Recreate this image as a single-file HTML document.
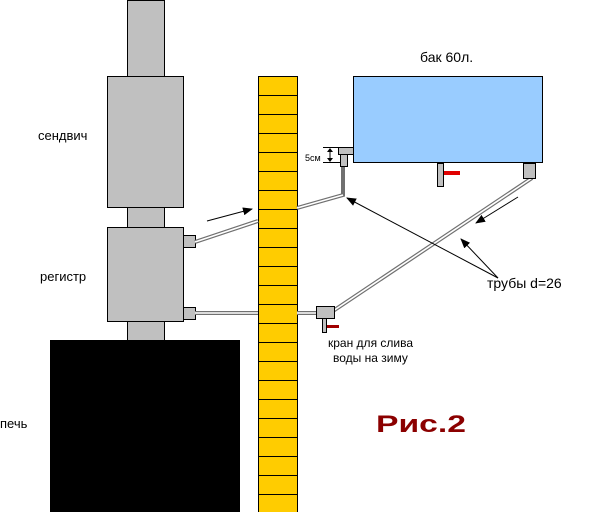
<!DOCTYPE html>
<html><head><meta charset="utf-8"><style>html,body{margin:0;padding:0;background:#fff}svg{display:block}</style></head><body>
<svg width="602" height="512" viewBox="0 0 602 512" xmlns="http://www.w3.org/2000/svg" font-family="Liberation Sans, sans-serif">
<defs><marker id="ah" markerWidth="10" markerHeight="8" refX="9" refY="4" orient="auto" markerUnits="userSpaceOnUse"><path d="M0,0 L10,4 L0,8 z" fill="#000"/></marker></defs>
<g stroke="#000" stroke-width="1" fill="#c0c0c0">
<rect x="127.5" y="0.5" width="37" height="77"/>
<rect x="127.5" y="207.5" width="37" height="21"/>
<rect x="127.5" y="321.5" width="37" height="20"/>
<rect x="107.5" y="76.5" width="76" height="131"/>
<rect x="107.5" y="227.5" width="76" height="94"/>
<rect x="183.5" y="235.5" width="12" height="12"/>
<rect x="183.5" y="307.5" width="12" height="12"/>
</g>
<rect x="50" y="340" width="190" height="172" fill="#000"/>
<rect x="258.5" y="76.5" width="39" height="440" fill="#ffcc00" stroke="#000"/>
<g stroke="#000" stroke-width="1">
<line x1="258" y1="95.5" x2="297" y2="95.5"/><line x1="258" y1="114.5" x2="297" y2="114.5"/><line x1="258" y1="133.5" x2="297" y2="133.5"/><line x1="258" y1="152.5" x2="297" y2="152.5"/><line x1="258" y1="171.5" x2="297" y2="171.5"/><line x1="258" y1="190.5" x2="297" y2="190.5"/><line x1="258" y1="209.5" x2="297" y2="209.5"/><line x1="258" y1="228.5" x2="297" y2="228.5"/><line x1="258" y1="247.5" x2="297" y2="247.5"/><line x1="258" y1="266.5" x2="297" y2="266.5"/><line x1="258" y1="285.5" x2="297" y2="285.5"/><line x1="258" y1="304.5" x2="297" y2="304.5"/><line x1="258" y1="323.5" x2="297" y2="323.5"/><line x1="258" y1="342.5" x2="297" y2="342.5"/><line x1="258" y1="361.5" x2="297" y2="361.5"/><line x1="258" y1="380.5" x2="297" y2="380.5"/><line x1="258" y1="399.5" x2="297" y2="399.5"/><line x1="258" y1="418.5" x2="297" y2="418.5"/><line x1="258" y1="437.5" x2="297" y2="437.5"/><line x1="258" y1="456.5" x2="297" y2="456.5"/><line x1="258" y1="475.5" x2="297" y2="475.5"/><line x1="258" y1="494.5" x2="297" y2="494.5"/>
</g>
<rect x="353.5" y="76.5" width="189" height="86" fill="#99ccff" stroke="#000"/>
<!-- pipes -->
<g fill="none" stroke-linejoin="miter">
<g stroke="#707070" stroke-width="4">
<path d="M195,242 L258,221"/><path d="M297,208 L343,195 L343,166"/>
<path d="M195,313 L258,313"/><path d="M297,313 L316,313"/>
<path d="M333,311 L532,178"/>
</g>
<g stroke="#fff" stroke-width="1.6">
<path d="M195,242 L258,221"/><path d="M297,208 L343,195"/>
<path d="M195,313 L258,313"/><path d="M297,313 L316,313"/>
<path d="M333,311 L532,178"/>
</g>
</g>
<g stroke="#000" stroke-width="1" fill="#c0c0c0">
<rect x="338.5" y="147.5" width="15" height="7"/>
<rect x="340.5" y="154.5" width="7" height="12"/>
<rect x="437.5" y="163.5" width="6" height="23"/>
<rect x="523.5" y="163.5" width="12" height="15"/>
<rect x="316.5" y="306.5" width="18" height="12"/>
<rect x="322.5" y="318.5" width="4" height="14"/>
</g>
<rect x="444" y="171" width="16" height="4" fill="#e00000"/>
<rect x="327" y="325" width="12" height="3" fill="#a00000"/>
<!-- 5cm dimension -->
<g stroke="#000" stroke-width="1">
<line x1="323" y1="147.5" x2="338" y2="147.5"/><line x1="323" y1="162.5" x2="340" y2="162.5"/>
<line x1="330" y1="150" x2="330" y2="160"/>
</g>
<path d="M327,152 L330,148 L333,152z M327,158 L330,162 L333,158z" fill="#000"/>
<!-- arrows -->
<g stroke="#000" stroke-width="1" fill="none">
<line x1="207" y1="221" x2="252" y2="209" marker-end="url(#ah)"/>
<line x1="518" y1="197" x2="476" y2="223" marker-end="url(#ah)"/>
<line x1="498" y1="278" x2="347" y2="198" marker-end="url(#ah)"/>
<line x1="498" y1="278" x2="461" y2="239" marker-end="url(#ah)"/>
</g>
<g fill="#000" font-size="13">
<text x="38" y="140">сендвич</text>
<text x="40" y="281">регистр</text>
<text x="0" y="428">печь</text>
<text x="420" y="62" font-size="14">бак 60л.</text>
<text x="305" y="161" font-size="9">5см</text>
<text x="487" y="288" font-size="14">трубы d=26</text>
<text x="328" y="347" font-size="12">кран для слива</text>
<text x="333" y="362" font-size="12">воды на зиму</text>
</g>
<text x="376" y="432" font-size="24" font-weight="bold" fill="#8b0000" textLength="90" lengthAdjust="spacingAndGlyphs">Рис.2</text>
</svg>
</body></html>
